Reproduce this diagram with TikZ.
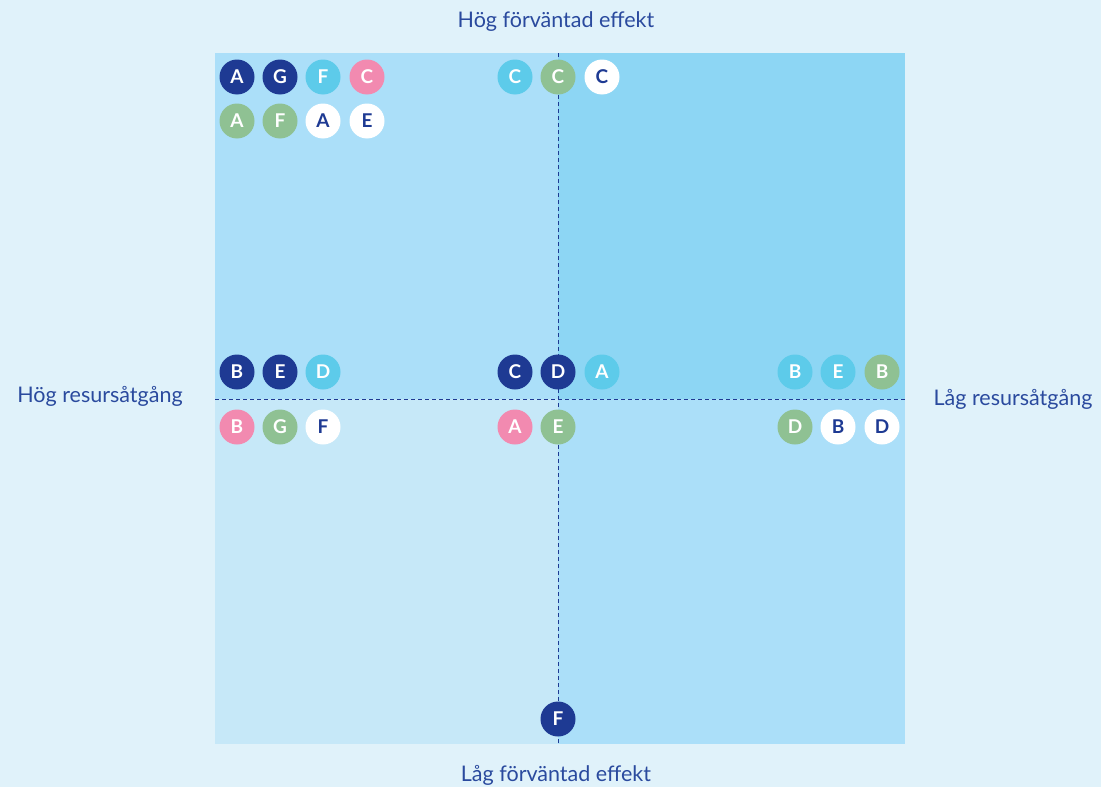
\documentclass[tikz,border=0pt]{standalone}
\usepackage{fontspec}
\setmainfont{Lato}
\newfontfamily\chipfont{Lato}
\definecolor{bgc}{HTML}{E0F2FA}
\definecolor{qtl}{HTML}{ABDFF9}
\definecolor{qtr}{HTML}{8DD6F4}
\definecolor{qbl}{HTML}{C6E8F8}
\definecolor{qbr}{HTML}{ABDFF9}
\definecolor{navy}{HTML}{1E3A93}
\definecolor{lblue}{HTML}{5DCBEA}
\definecolor{pinkc}{HTML}{F28AB0}
\definecolor{greenc}{HTML}{8FC193}
\definecolor{labc}{HTML}{2A4A9E}
\tikzset{
  chip/.style={circle,minimum size=35pt,inner sep=0pt,font=\chipfont\bfseries\fontsize{19}{19}\selectfont},
  cn/.style={chip,fill=navy,text=white},
  cl/.style={chip,fill=lblue,text=white},
  cp/.style={chip,fill=pinkc,text=white},
  cg/.style={chip,fill=greenc,text=white},
  cw/.style={chip,fill=white,text=navy},
  axlab/.style={text=labc,font=\fontsize{21.5}{21.5}\selectfont,inner sep=0pt},
  divider/.style={navy,line width=0.9pt,dash pattern=on 4pt off 3pt}
}
\newcommand{\chipnode}[5]{\node[#4] (#1) at (#2,#3) {#5};}
\begin{document}
\begin{tikzpicture}[x=1pt,y=-1pt]
\useasboundingbox (0,0) rectangle (1101,787);
\fill[bgc] (0,0) rectangle (1101,787);
\fill[qtl] (215,53) rectangle (558,399);
\fill[qtr] (558,53) rectangle (905,399);
\fill[qbl] (215,399) rectangle (558,744);
\fill[qbr] (558,399) rectangle (905,744);
\coordinate (vt) at (558,53);
\coordinate (vb) at (558,744);
\coordinate (hl) at (215,399);
\coordinate (hr) at (905,399);
\draw[divider] (vt) -- (vb);
\draw[divider] (hl) -- (hr);
% axis labels
\node[axlab] (top) at (556,22) {Hög förväntad effekt};
\node[axlab] (bottom) at (556,775) {Låg förväntad effekt};
\node[axlab] (left) at (100,396) {Hög resursåtgång};
\node[axlab] (right) at (1013,399) {Låg resursåtgång};
% top-left
\chipnode{a1}{237}{77}{cn}{A}
\chipnode{a2}{280}{77}{cn}{G}
\chipnode{a3}{323}{77}{cl}{F}
\chipnode{a4}{367}{77}{cp}{C}
\chipnode{b1}{237}{121}{cg}{A}
\chipnode{b2}{280}{121}{cg}{F}
\chipnode{b3}{323}{121}{cw}{A}
\chipnode{b4}{367}{121}{cw}{E}
% top-center
\chipnode{c1}{515}{77}{cl}{C}
\chipnode{c2}{558}{77}{cg}{C}
\chipnode{c3}{602}{77}{cw}{C}
% middle row
\chipnode{d1}{237}{372}{cn}{B}
\chipnode{d2}{280}{372}{cn}{E}
\chipnode{d3}{323}{372}{cl}{D}
\chipnode{d4}{515}{372}{cn}{C}
\chipnode{d5}{558}{372}{cn}{D}
\chipnode{d6}{602}{372}{cl}{A}
\chipnode{d7}{795}{372}{cl}{B}
\chipnode{d8}{838}{372}{cl}{E}
\chipnode{d9}{882}{372}{cg}{B}
% lower row
\chipnode{e1}{237}{427}{cp}{B}
\chipnode{e2}{280}{427}{cg}{G}
\chipnode{e3}{323}{427}{cw}{F}
\chipnode{e4}{515}{427}{cp}{A}
\chipnode{e5}{558}{427}{cg}{E}
\chipnode{e6}{795}{427}{cg}{D}
\chipnode{e7}{838}{427}{cw}{B}
\chipnode{e8}{882}{427}{cw}{D}
% bottom
\chipnode{f1}{558}{719}{cn}{F}
\end{tikzpicture}
\end{document}
